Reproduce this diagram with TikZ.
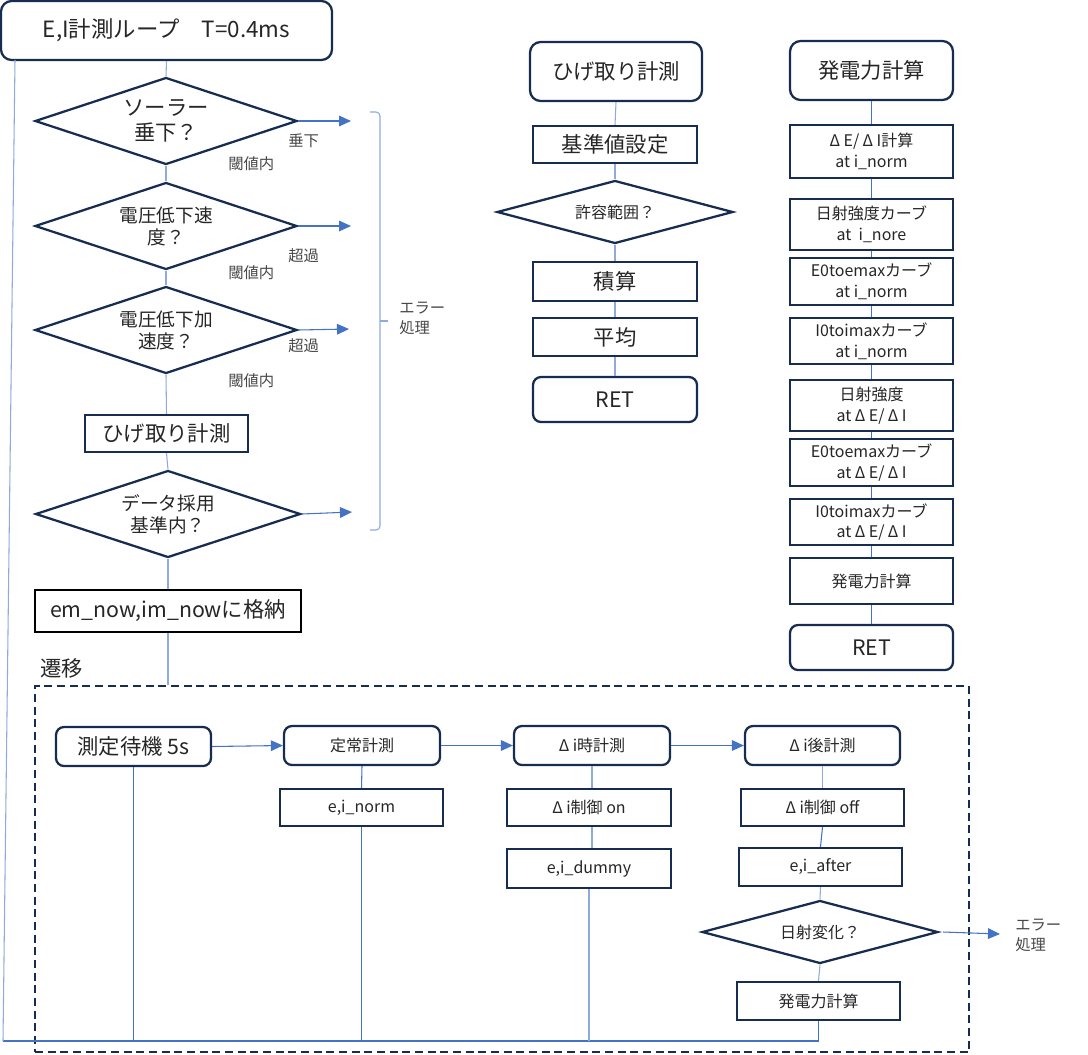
\documentclass[tikz,border=0pt]{standalone}
\usepackage{fontspec}
\setmainfont{Noto Sans CJK JP}
\usetikzlibrary{shapes.geometric,arrows.meta,fit}
\definecolor{navy}{HTML}{172C51}
\definecolor{cblue}{HTML}{4472C4}
\definecolor{lblue}{HTML}{8FAADC}
\definecolor{txt}{HTML}{262626}
\newcommand{\dl}{Δ\hspace{0.22em}}
\begin{document}
\begin{tikzpicture}[x=0.75pt,y=-0.75pt,
 every node/.style={text=txt},
 sbox/.style={draw=navy, line width=1.7pt, fill=white, inner sep=0pt, align=center},
 rbox/.style={sbox, rounded corners=6pt},
 sz/.style 2 args={minimum width=#1*0.75pt, minimum height=#2*0.75pt},
 dia/.style n args={2}{diamond, draw=navy, line width=1.7pt, inner sep=0pt, aspect=3, minimum width=#1*0.75pt, minimum height=#2*0.75pt, align=center},
 conn/.style={draw=cblue, line width=0.8pt},
 lconn/.style={draw=lblue, line width=0.8pt},
 arr/.style={conn, -{Triangle[length=9pt,width=8pt]}},
 lbl/.style={font=\fontsize{11.5}{15}\selectfont, inner sep=0pt, text=txt!85!white},
 big/.style={font=\fontsize{16}{19}\selectfont},
 mid/.style={font=\fontsize{14}{16.5}\selectfont},
 sml/.style={font=\fontsize{12}{15.5}\selectfont}
]
\useasboundingbox (0,0) rectangle (1088,1054);

% ---------- main loop column ----------
\node[rbox, rounded corners=8pt, font=\fontsize{16.8}{19}\selectfont, sz={331}{59}] (top) at (166.5,30.5) {E,I計測ループ　T=0.4ms};
\node[dia={262}{87}, big] (d1) at (166,121) {ソーラー\\垂下？};
\node[dia={262}{87}, mid] (d2) at (166,226) {電圧低下速\\度？};
\node[dia={262}{87}, mid] (d3) at (166,330) {電圧低下加\\速度？};
\node[sbox, big, sz={163}{37}] (hige) at (166.5,433.5) {ひげ取り計測};
\node[dia={265}{87}, mid] (d4) at (168,514) {データ採用\\基準内？};
\node[sbox, draw=black, big, sz={266}{42}] (em) at (168,611) {em\_now,im\_nowに格納};

\draw[lconn] (top.south) -- (d1.north);
\draw[lconn] (d1.south) -- (d2.north);
\draw[lconn] (d2.south) -- (d3.north);
\draw[lconn] (d3.south) -- (hige.north);
\draw[lconn] (hige.south) -- (d4.north);
\draw[lconn] (d4.south) -- (em.north);

\coordinate (e1) at (351,121);
\coordinate (e2) at (351,226);
\coordinate (e3) at (349,329);
\coordinate (e4) at (352,512);
\draw[arr] (d1.east) -- (e1);
\draw[arr] (d2.east) -- (e2);
\draw[arr] (d3.east) -- (e3);
\draw[arr] (d4.east) -- (e4);

\node[lbl, anchor=west] (la1) at (288,141) {垂下};
\node[lbl, anchor=west] (lb1) at (228,164) {閾値内};
\node[lbl, anchor=west] (la2) at (288,256) {超過};
\node[lbl, anchor=west] (lb2) at (228,273) {閾値内};
\node[lbl, anchor=west] (la3) at (288,346) {超過};
\node[lbl, anchor=west] (lb3) at (228,381) {閾値内};

% bracket
\coordinate (bt) at (370,112);
\coordinate (bb) at (370,530);
\draw[lconn, rounded corners=3pt] (bt) -- (380,112) -- (380,530) -- (bb);
\coordinate (bm) at (380,321);
\coordinate (bm2) at (388,321);
\draw[lconn] (bm) -- (bm2);
\node[lbl, anchor=west, align=left] (err1) at (399,318) {エラー\\処理};

\node[big, anchor=west, inner sep=0pt] (seni) at (40,668) {遷移};

% ---------- transition box ----------
\node[draw=navy, line width=1.5pt, dash pattern=on 6pt off 3.5pt, inner sep=0pt, fit={(35,686) (969,1052)}] (dash) {};
\draw[lconn] (em.south) -- (em.south |- dash.north);

\node[rbox, big, sz={155}{39}] (wait) at (133.5,746.5) {測定待機 5s};
\node[rbox, sml, sz={156}{39}] (teijo) at (362,745.5) {定常計測};
\node[rbox, sml, sz={156}{39}] (jiji) at (592,745.5) {\dl i時計測};
\node[rbox, sml, sz={155}{39}] (ato) at (822.5,745.5) {\dl i後計測};
\node[sbox, sml, sz={163}{37}] (enorm) at (361.5,807.5) {e,i\_norm};
\node[sbox, sml, sz={164}{37}] (con) at (589,807.5) {\dl i制御 on};
\node[sbox, sml, sz={164}{39}] (edum) at (589,868.5) {e,i\_dummy};
\node[sbox, sml, sz={163}{37}] (coff) at (822.5,807.5) {\dl i制御 off};
\node[sbox, sml, sz={163}{38}] (eaft) at (820.5,867) {e,i\_after};
\node[dia={236}{63}, sml] (d5) at (820,932) {日射変化？};
\node[sbox, sml, sz={163}{38}] (pw2) at (818.5,1001) {発電力計算};

\draw[arr] (wait.east) -- (teijo.west);
\draw[arr] (teijo.east) -- (jiji.west);
\draw[arr] (jiji.east) -- (ato.west);

\draw[conn] (teijo.south) -- (enorm.north);
\draw[lconn] (jiji.south) -- (jiji.south |- con.north);
\draw[lconn] (jiji.south |- con.south) -- (jiji.south |- edum.north);
\draw[lconn] (ato.south) -- (coff.north);
\draw[conn] (coff.south) -- (eaft.north);
\draw[lconn] (eaft.south) -- (d5.north);
\draw[lconn] (d5.south) -- (pw2.north);

\coordinate (cL) at (3,1041);
\coordinate (cT) at (15,60);
\draw[conn] (pw2.south) |- (cL);
\draw[lconn] (cL) -- (cT);
\draw[conn] (wait.south) -- (wait.south |- cL);
\draw[conn] (enorm.south) -- (enorm.south |- cL);
\draw[lconn] (edum.south) -- (edum.south |- cL);

\coordinate (e5) at (1000,934);
\draw[arr] ([xshift=3pt]d5.east) -- (e5);
\node[lbl, anchor=west, align=left] (err2) at (1015,935) {エラー\\処理};

% ---------- ひげ取り計測 subroutine ----------
\node[rbox, rounded corners=8pt, big, sz={172}{59}] (hige2) at (616,71.5) {ひげ取り計測};
\node[sbox, big, sz={164}{37}] (kijun) at (615,144.5) {基準値設定};
\node[dia={236}{63}, sml] (d6) at (615,212) {許容範囲？};
\node[sbox, big, sz={164}{39}] (seki) at (615,281.5) {積算};
\node[sbox, big, sz={164}{38}] (heikin) at (615,337) {平均};
\node[rbox, big, sz={164}{45}] (ret1) at (615,399.5) {RET};
\draw[lconn] (hige2.south) -- (kijun.north);
\draw[lconn] (kijun.south) -- (d6.north);
\draw[lconn] (d6.south) -- (seki.north);
\draw[lconn] (seki.south) -- (heikin.north);
\draw[lconn] (heikin.south) -- (ret1.north);

% ---------- 発電力計算 subroutine ----------
\node[rbox, rounded corners=8pt, big, sz={163}{59}] (pw) at (871.5,70.5) {発電力計算};
\node[sbox, sml, sz={163}{53}] (r1) at (871.5,151.5) {\dl E/\hspace{0.2em}\dl I計算\\at i\_norm};
\node[sbox, sml, sz={163}{51}] (r2) at (871.5,224.5) {日射強度カーブ\\at\ \ i\_nore};
\node[sbox, sml, sz={163}{47}] (r3) at (871.5,281.5) {E0toemaxカーブ\\at i\_norm};
\node[sbox, sml, sz={163}{46}] (r4) at (871.5,341) {I0toimaxカーブ\\at i\_norm};
\node[sbox, sml, sz={163}{51}] (r5) at (871.5,405.5) {日射強度\\at\ \dl E/\hspace{0.2em}\dl I};
\node[sbox, sml, sz={163}{47}] (r6) at (871.5,462.5) {E0toemaxカーブ\\at\ \dl E/\hspace{0.2em}\dl I};
\node[sbox, sml, sz={163}{46}] (r7) at (871.5,522) {I0toimaxカーブ\\at\ \dl E/\hspace{0.2em}\dl I};
\node[sbox, sml, sz={163}{46}] (r8) at (871.5,581) {発電力計算};
\node[rbox, big, sz={163}{45}] (ret2) at (871.5,647.5) {RET};
\draw[conn] (pw.south) -- (r1.north);
\draw[conn] (r1.south) -- (r2.north);
\draw[conn] (r2.south) -- (r3.north);
\draw[conn] (r3.south) -- (r4.north);
\draw[conn] (r4.south) -- (r5.north);
\draw[conn] (r5.south) -- (r6.north);
\draw[conn] (r6.south) -- (r7.north);
\draw[conn] (r7.south) -- (r8.north);
\draw[conn] (r8.south) -- (ret2.north);
\end{tikzpicture}
\end{document}
